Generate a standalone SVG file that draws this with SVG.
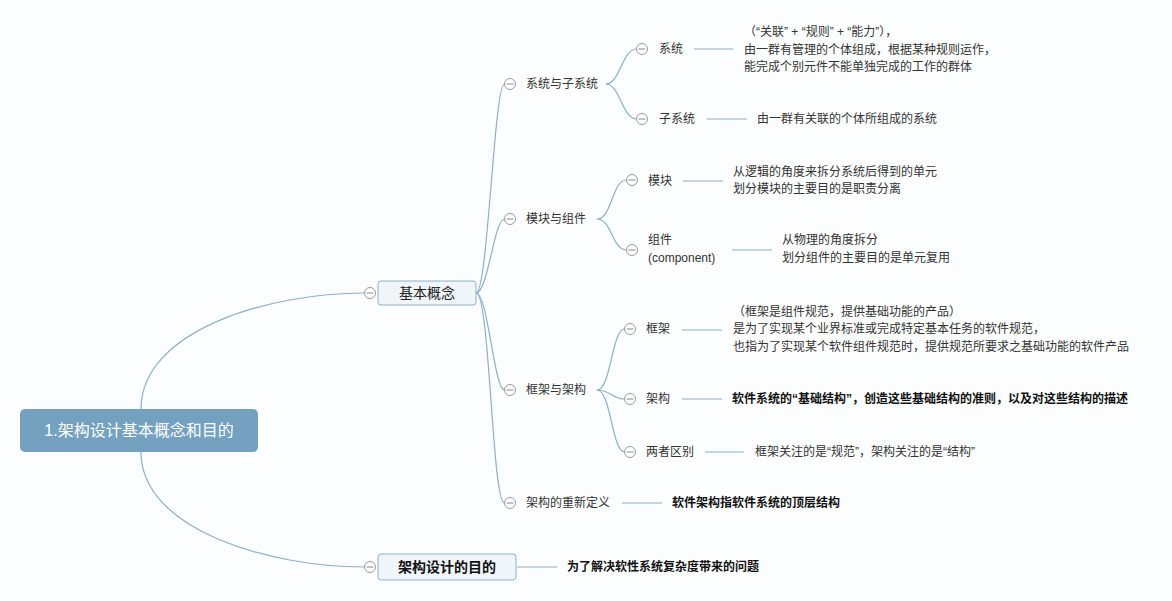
<svg xmlns="http://www.w3.org/2000/svg" width="1172" height="601" viewBox="0 0 1172 601">
<style>
  text { font-family: "Liberation Sans", "Noto Sans CJK SC", sans-serif; font-size: 12px; fill: #333; dominant-baseline: central; }
  .b { font-weight: bold; fill: #111; }
  .root { font-size: 16px; fill: #fff; text-anchor: middle; }
  .l2 { font-size: 14px; fill: #222; text-anchor: middle; }
  .l2b { font-size: 14px; font-weight: bold; fill: #111; text-anchor: middle; }
  .c { fill: none; stroke: #8eafc7; stroke-width: 1.2; }
  .cc { fill: #fff; stroke: #9a9a9a; stroke-width: 1; }
  .cm { stroke: #8a8a8a; stroke-width: 1; }
  .box { fill: #f0f5fa; stroke: #8fb0ca; stroke-width: 1; }
</style>
<defs>
  <g id="col"><circle class="cc" r="5.5"/><line class="cm" x1="-3.5" y1="0" x2="3.5" y2="0"/></g>
</defs>
<rect width="1172" height="601" fill="#fcfdfe"/>
<g id="connectors">
  <path class="c" d="M141,409 C141,330 270,293 364,293"/>
  <path class="c" d="M141,452 C141,530 270,567 364,567"/>
  <path class="c" d="M476,293 C488,293 494,84 504.5,84"/>
  <path class="c" d="M476,293 C488,293 494,219 504.5,219"/>
  <path class="c" d="M476,293 C488,293 494,390 504.5,390"/>
  <path class="c" d="M476,293 C490,293 492,503 504.5,503"/>
  <path class="c" d="M606,84 C620,84 622,49 636.5,49"/>
  <path class="c" d="M606,84 C620,84 622,119 636.5,119"/>
  <path class="c" d="M597,219 C612,219 612,180 626.5,180"/>
  <path class="c" d="M597,219 C612,219 612,250 626.5,250"/>
  <path class="c" d="M597,390 C611,390 612,329 624.5,329"/>
  <path class="c" d="M597,390 C611,390 612,399 624.5,399"/>
  <path class="c" d="M597,390 C611,390 612,452 624.5,452"/>
  <line class="c" x1="694" y1="49" x2="733" y2="49"/>
  <line class="c" x1="707" y1="119" x2="747" y2="119"/>
  <line class="c" x1="683" y1="181" x2="723" y2="181"/>
  <line class="c" x1="732" y1="250" x2="772" y2="250"/>
  <line class="c" x1="682" y1="330" x2="722" y2="330"/>
  <line class="c" x1="682" y1="399" x2="722" y2="399"/>
  <line class="c" x1="705" y1="452" x2="744" y2="452"/>
  <line class="c" x1="622" y1="503" x2="662" y2="503"/>
  <line class="c" x1="517" y1="567" x2="557" y2="567"/>
</g>
<g id="root">
  <rect x="20" y="409" width="238" height="43" rx="5" fill="#73a1bf"/>
  <text class="root" x="139" y="430.5">1.架构设计基本概念和目的</text>
</g>
<g id="n-basic">
  <rect class="box" x="378" y="281" width="98" height="24" rx="3"/>
  <text class="l2" x="427" y="293">基本概念</text>
  <use href="#col" x="370" y="293"/>
</g>
<g id="n-purpose">
  <rect class="box" x="378" y="554" width="138" height="26" rx="3"/>
  <text class="l2b" x="447" y="567">架构设计的目的</text>
  <use href="#col" x="370" y="567"/>
</g>
<g id="n-purpose-desc">
  <text class="b" x="567" y="567">为了解决软性系统复杂度带来的问题</text>
</g>
<g id="n-sys-group">
  <use href="#col" x="510" y="84"/>
  <text x="526" y="84">系统与子系统</text>
</g>
<g id="n-sys">
  <use href="#col" x="642" y="49"/>
  <text x="659" y="49">系统</text>
</g>
<g id="n-sys-desc">
  <text x="744" y="32">（“关联” + “规则” + “能力”），</text>
  <text x="744" y="50">由一群有管理的个体组成，根据某种规则运作，</text>
  <text x="744" y="67">能完成个别元件不能单独完成的工作的群体</text>
</g>
<g id="n-subsys">
  <use href="#col" x="642" y="119"/>
  <text x="659" y="119">子系统</text>
</g>
<g id="n-subsys-desc">
  <text x="757" y="119">由一群有关联的个体所组成的系统</text>
</g>
<g id="n-mod-group">
  <use href="#col" x="510" y="219"/>
  <text x="526" y="219">模块与组件</text>
</g>
<g id="n-mod">
  <use href="#col" x="632" y="180"/>
  <text x="648" y="181">模块</text>
</g>
<g id="n-mod-desc">
  <text x="733" y="172">从逻辑的角度来拆分系统后得到的单元</text>
  <text x="733" y="189">划分模块的主要目的是职责分离</text>
</g>
<g id="n-comp">
  <use href="#col" x="632" y="250"/>
  <text x="648" y="240">组件</text>
  <text x="648" y="258">(component)</text>
</g>
<g id="n-comp-desc">
  <text x="782" y="240">从物理的角度拆分</text>
  <text x="782" y="258">划分组件的主要目的是单元复用</text>
</g>
<g id="n-fw-group">
  <use href="#col" x="510" y="390"/>
  <text x="526" y="390">框架与架构</text>
</g>
<g id="n-fw">
  <use href="#col" x="630" y="329"/>
  <text x="646" y="329">框架</text>
</g>
<g id="n-fw-desc">
  <text x="733" y="312">（框架是组件规范，提供基础功能的产品）</text>
  <text x="733" y="329">是为了实现某个业界标准或完成特定基本任务的软件规范，</text>
  <text x="733" y="347">也指为了实现某个软件组件规范时，提供规范所要求之基础功能的软件产品</text>
</g>
<g id="n-arch">
  <use href="#col" x="630" y="399"/>
  <text x="646" y="399">架构</text>
</g>
<g id="n-arch-desc">
  <text class="b" x="732" y="399">软件系统的“基础结构”，创造这些基础结构的准则，以及对这些结构的描述</text>
</g>
<g id="n-diff">
  <use href="#col" x="630" y="452"/>
  <text x="646" y="452">两者区别</text>
</g>
<g id="n-diff-desc">
  <text x="755" y="452">框架关注的是“规范”，架构关注的是“结构”</text>
</g>
<g id="n-redef">
  <use href="#col" x="510" y="503"/>
  <text x="526" y="503">架构的重新定义</text>
</g>
<g id="n-redef-desc">
  <text class="b" x="672" y="503">软件架构指软件系统的顶层结构</text>
</g>
</svg>
